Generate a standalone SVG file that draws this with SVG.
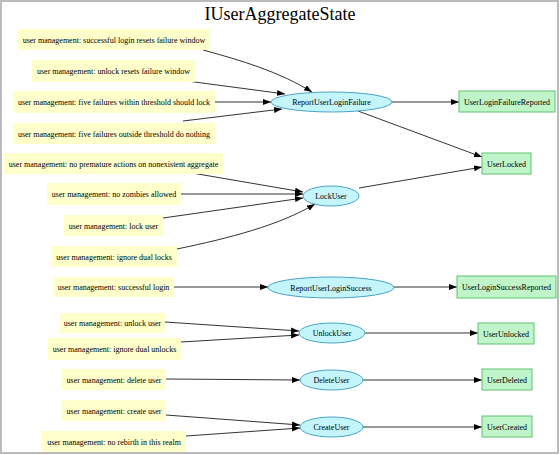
<svg xmlns="http://www.w3.org/2000/svg" width="560" height="455" viewBox="0 0 560 455">
<defs>
<style>
text{font-family:"Liberation Serif","Times New Roman",serif;fill:#000;}
.t{font-size:8px;text-anchor:middle;}
.title{font-size:18px;text-anchor:middle;}
.note{fill:#ffffcc;stroke:none;}
.cmd{fill:#c3f5fb;stroke:#4aa3c8;stroke-width:1;}
.evt{fill:#bff5c8;stroke:#5cc36e;stroke-width:1;}
.e{fill:none;stroke:#333;stroke-width:1;marker-end:url(#ah);}
</style>
<marker id="ah" markerUnits="userSpaceOnUse" markerWidth="9" markerHeight="7" refX="8" refY="3" orient="auto">
<path d="M0,0 L8,3 L0,6 z" fill="#000"/>
</marker>
</defs>
<rect x="1" y="1" width="557" height="452" fill="#fff" stroke="#bbb" stroke-width="2"/>
<text class="title" x="280" y="20">IUserAggregateState</text>

<g id="connectors">
<path class="e" d="M203,50 C240,60 280,72 312,92"/>
<path class="e" d="M187,81 L285,94"/>
<path class="e" d="M215,102 L271,102"/>
<path class="e" d="M183,121 L282,109"/>
<path class="e" d="M392,102 L459,102"/>
<path class="e" d="M358,111 L482,157"/>
<path class="e" d="M359,188 L482,167"/>
<path class="e" d="M192,173 L303,192"/>
<path class="e" d="M181,194 L303,194"/>
<path class="e" d="M163,218 L303,198"/>
<path class="e" d="M177,249 C230,238 280,225 315,204"/>
<path class="e" d="M174,287 L268,287"/>
<path class="e" d="M394,287 L457,287"/>
<path class="e" d="M165,322 L299,331"/>
<path class="e" d="M181,342 L299,335"/>
<path class="e" d="M365,333 L478,333"/>
<path class="e" d="M166,379 L300,380"/>
<path class="e" d="M363,380 L482,380"/>
<path class="e" d="M166,415 L300,425"/>
<path class="e" d="M186,436 L300,428"/>
<path class="e" d="M363,427 L482,427"/>
</g>

<g id="n1"><rect class="note" x="18" y="29" width="192" height="21"/><text class="t" x="114" y="42.5">user management: successful login resets failure window</text></g>
<g id="n2"><rect class="note" x="32" y="60" width="163" height="22"/><text class="t" x="113.5" y="74">user management: unlock resets failure window</text></g>
<g id="n3"><rect class="note" x="13" y="91" width="202" height="22"/><text class="t" x="114" y="105">user management: five failures within threshold should lock</text></g>
<g id="n4"><rect class="note" x="13" y="123" width="202" height="21"/><text class="t" x="114" y="136.5">user management: five failures outside threshold do nothing</text></g>
<g id="n5"><rect class="note" x="4" y="153" width="219" height="21"/><text class="t" x="113.5" y="166.5">user management: no premature actions on nonexistent aggregate</text></g>
<g id="n6"><rect class="note" x="47" y="183" width="134" height="22"/><text class="t" x="114" y="197">user management: no zombies allowed</text></g>
<g id="n7"><rect class="note" x="64" y="215" width="99" height="21"/><text class="t" x="113.5" y="228.5">user management: lock user</text></g>
<g id="n8"><rect class="note" x="51" y="246" width="126" height="21"/><text class="t" x="114" y="259.5">user management: ignore dual locks</text></g>
<g id="n9"><rect class="note" x="53" y="277" width="121" height="20"/><text class="t" x="113.5" y="290">user management: successful login</text></g>
<g id="n10"><rect class="note" x="60" y="313" width="105" height="20"/><text class="t" x="112.5" y="326">user management: unlock user</text></g>
<g id="n11"><rect class="note" x="48" y="338" width="133" height="22"/><text class="t" x="114.5" y="352">user management: ignore dual unlocks</text></g>
<g id="n12"><rect class="note" x="62" y="369" width="104" height="21"/><text class="t" x="114" y="382.5">user management: delete user</text></g>
<g id="n13"><rect class="note" x="62" y="400" width="104" height="21"/><text class="t" x="114" y="413.5">user management: create user</text></g>
<g id="n14"><rect class="note" x="42" y="431" width="144" height="21"/><text class="t" x="114" y="444.5">user management: no rebirth in this realm</text></g>

<g id="c1"><ellipse class="cmd" cx="331.5" cy="102" rx="60.5" ry="10"/><text class="t" x="331.5" y="105">ReportUserLoginFailure</text></g>
<g id="c2"><ellipse class="cmd" cx="331" cy="196" rx="28" ry="10"/><text class="t" x="331" y="199">LockUser</text></g>
<g id="c3"><ellipse class="cmd" cx="331" cy="287.5" rx="63" ry="10.5"/><text class="t" x="331" y="290.5">ReportUserLoginSuccess</text></g>
<g id="c4"><ellipse class="cmd" cx="332" cy="333" rx="33" ry="10"/><text class="t" x="332" y="336">UnlockUser</text></g>
<g id="c5"><ellipse class="cmd" cx="331.5" cy="380" rx="31.5" ry="10"/><text class="t" x="331.5" y="383">DeleteUser</text></g>
<g id="c6"><ellipse class="cmd" cx="331.5" cy="427" rx="31.5" ry="10"/><text class="t" x="331.5" y="430">CreateUser</text></g>

<g id="e1"><rect class="evt" x="459" y="91" width="96" height="21"/><text class="t" x="507" y="104.5">UserLoginFailureReported</text></g>
<g id="e2"><rect class="evt" x="482" y="153" width="49" height="21"/><text class="t" x="506.5" y="166.5">UserLocked</text></g>
<g id="e3"><rect class="evt" x="457" y="276" width="99" height="22"/><text class="t" x="506.5" y="290">UserLoginSuccessReported</text></g>
<g id="e4"><rect class="evt" x="478" y="323" width="56" height="21"/><text class="t" x="506" y="336.5">UserUnlocked</text></g>
<g id="e5"><rect class="evt" x="482" y="369" width="50" height="21"/><text class="t" x="507" y="382.5">UserDeleted</text></g>
<g id="e6"><rect class="evt" x="482" y="416" width="50" height="21"/><text class="t" x="507" y="429.5">UserCreated</text></g>
</svg>
